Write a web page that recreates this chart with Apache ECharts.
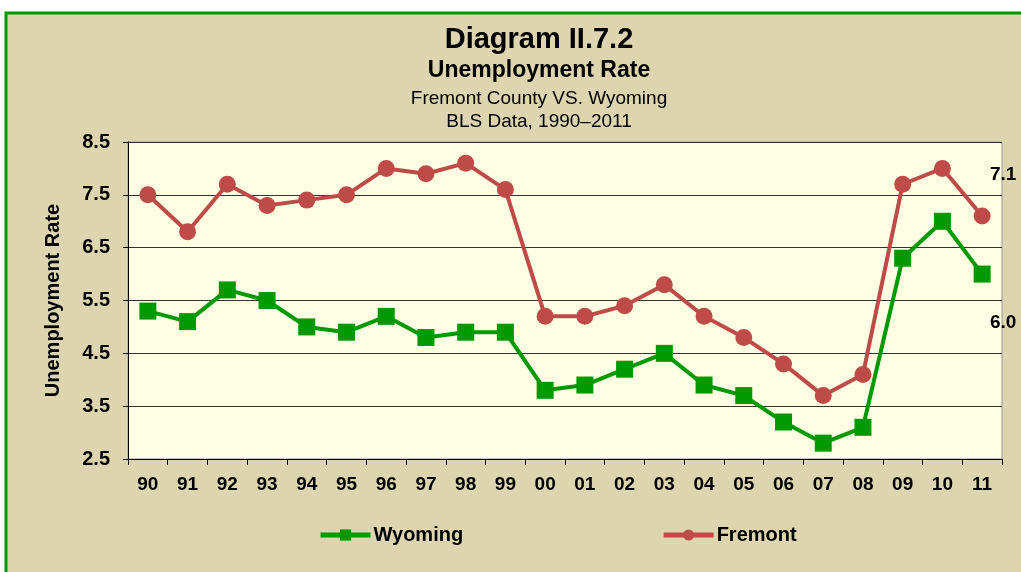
<!DOCTYPE html>
<html><head><meta charset="utf-8">
<script src="https://cdn.jsdelivr.net/npm/echarts@6/dist/echarts.min.js"></script>
<style>html,body{margin:0;padding:0;background:#fff}#c{width:1021px;height:572px}</style>
</head><body><div id="c"></div>
<script>
const years = ['90','91','92','93','94','95','96','97','98','99','00','01','02','03','04','05','06','07','08','09','10','11'];
const wyoming = [5.3,5.1,5.7,5.5,5.0,4.9,5.2,4.8,4.9,4.9,3.8,3.9,4.2,4.5,3.9,3.7,3.2,2.8,3.1,6.3,7.0,6.0];
const fremont = [7.5,6.8,7.7,7.3,7.4,7.5,8.0,7.9,8.1,7.6,5.2,5.2,5.4,5.8,5.2,4.8,4.3,3.7,4.1,7.7,8.0,7.1];
const yTicks = [2.5,3.5,4.5,5.5,6.5,7.5,8.5];
const titleLines = ['Diagram II.7.2', 'Unemployment Rate', 'Fremont County VS. Wyoming', 'BLS Data, 1990\u20132011'];

const font = 'Liberation Sans, Arial, sans-serif';
const chart = echarts.init(document.getElementById('c'));
const last = years.length - 1;
const tl = (i, y, size, weight) => ({
  type: 'text', x: 539, y: y, silent: true,
  style: {text: titleLines[i], textAlign: 'center', textVerticalAlign: 'middle', font: weight + ' ' + size + 'px ' + font, fill: '#000'}
});
chart.setOption({
  animation: false,
  backgroundColor: '#ffffff',
  graphic: [
    {type: 'rect', z: -10, silent: true,
     shape: {x: 6, y: 13, width: 1030, height: 580},
     style: {fill: '#DDD5B0', stroke: '#009900', lineWidth: 3}},
    tl(0, 40, 29, 'bold'),
    tl(1, 71, 23, 'bold'),
    tl(2, 99, 19, 'normal'),
    tl(3, 122, 19, 'normal')
  ],
  legend: {
    top: 520, left: 313, itemGap: 198, itemWidth: 50, itemHeight: 14,
    lineStyle: {width: 5},
    textStyle: {fontFamily: font, fontSize: 20, fontWeight: 'bold', color: '#000', padding: [0, 0, 0, -2]},
    data: ['Wyoming', 'Fremont']
  },
  grid: {left: 128, right: 19, top: 142, bottom: 113, show: true, backgroundColor: '#FFFFE3', borderColor: '#999', borderWidth: 1},
  xAxis: {
    type: 'category', data: years, boundaryGap: true,
    axisLine: {lineStyle: {color: '#000', width: 1}},
    axisTick: {show: true, length: 6, lineStyle: {color: '#000'}},
    axisLabel: {fontFamily: font, fontSize: 19, fontWeight: 'bold', color: '#000', margin: 16}
  },
  yAxis: {
    type: 'value', min: 2.5, max: 8.5, interval: 1,
    name: 'Unemployment Rate', nameLocation: 'middle', nameGap: 65, nameRotate: 90,
    nameTextStyle: {fontFamily: font, fontSize: 20, fontWeight: 'bold', color: '#000'},
    axisLine: {show: true, lineStyle: {color: '#000'}},
    axisTick: {show: true, length: 5, lineStyle: {color: '#000'}},
    axisLabel: {fontFamily: font, fontSize: 20, fontWeight: 'bold', color: '#000', margin: 18,
      formatter: v => yTicks.includes(v) ? v.toFixed(1) : ''},
    splitLine: {lineStyle: {color: '#333', width: 1}}
  },
  series: [
    {name: 'Wyoming', type: 'line', data: wyoming.map((v, i) => i === last ? {value: v, label: {show: true, position: 'bottom', offset: [21, 26], formatter: v.toFixed(1)}} : v),
     symbol: 'rect', symbolSize: 17, color: '#009900',
     lineStyle: {width: 4, color: '#009900'}, itemStyle: {color: '#009900'},
     label: {show: false, fontFamily: font, fontSize: 19, fontWeight: 'bold', color: '#000'}, z: 3},
    {name: 'Fremont', type: 'line', data: fremont.map((v, i) => i === last ? {value: v, label: {show: true, position: 'top', offset: [21, -18], formatter: v.toFixed(1)}} : v),
     symbol: 'circle', symbolSize: 17, color: '#BE4B48',
     lineStyle: {width: 4, color: '#BE4B48'}, itemStyle: {color: '#BE4B48'},
     label: {show: false, fontFamily: font, fontSize: 19, fontWeight: 'bold', color: '#000'}, z: 2}
  ]
});
</script></body></html>
